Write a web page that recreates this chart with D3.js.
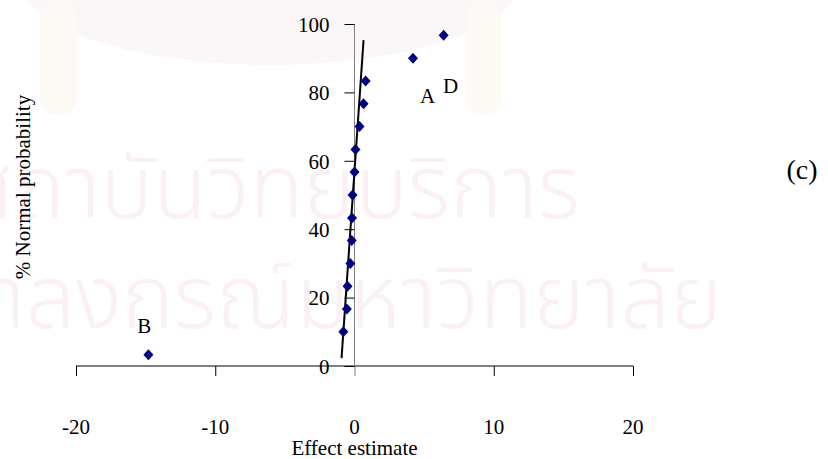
<!DOCTYPE html>
<html>
<head>
<meta charset="utf-8">
<script src="https://cdn.jsdelivr.net/npm/d3@7"></script>
<style>
  body { margin: 0; background: #fff; }
  text { font-family: "Liberation Serif", "Times New Roman", serif; }
</style>
</head>
<body>
<div id="chart"></div>
<script>
// normal probability plot of effect estimates

// effect estimates (sorted) and their % normal probability
let effects = [-14.8, -0.8, -0.55, -0.5, -0.3, -0.2, -0.18, -0.14, 0, 0.07, 0.36, 0.65, 0.8, 4.2, 6.4]
let probs = [3.3, 10, 16.7, 23.3, 30, 36.7, 43.3, 50, 56.7, 63.3, 70, 76.7, 83.3, 90, 96.7]

// fitted straight line through the small effects
let lineX = [-0.93, 0.65]
let lineY = [2.3, 95.3]

// point labels
let labelText = ["A", "D", "B"]
let labelX = [5.25, 6.9, -15.1]
let labelY = [76.9, 79.8, 9.6]

let xTicks = [-20, -10, 0, 10, 20]
let yTicks = [0, 20, 40, 60, 80, 100]

let width = 828, height = 459

let svg = d3.select("#chart").append("svg")
  .attr("width", width)
  .attr("height", height)

let xScale = d3.scaleLinear().domain([-20, 20]).range([76, 633])
let yScale = d3.scaleLinear().domain([0, 100]).range([366, 24])

////////////////////////////////////////////////////////////////
// faded watermark in the background

let wm = svg.append("g")
wm.append("ellipse")
  .attr("cx", 270).attr("cy", -20)
  .attr("rx", 250).attr("ry", 85)
  .attr("fill", "#fbf6f7")
wm.append("rect")
  .attr("x", 40).attr("y", 0).attr("width", 36).attr("height", 115)
  .attr("rx", 16).attr("fill", "#fdfaf5")
wm.append("rect")
  .attr("x", 466).attr("y", 0).attr("width", 36).attr("height", 115)
  .attr("rx", 16).attr("fill", "#fdfaf5")
wm.append("text")
  .attr("x", 580).attr("y", 218)
  .attr("text-anchor", "end")
  .style("font-family", "'Noto Sans Thai', 'Noto Sans', sans-serif")
  .style("font-size", "88px")
  .style("font-weight", "300")
  .attr("fill", "#fbf0f4")
  .text("สถาบันวิทยบริการ")
wm.append("text")
  .attr("x", 722).attr("y", 328)
  .attr("text-anchor", "end")
  .style("font-family", "'Noto Sans Thai', 'Noto Sans', sans-serif")
  .style("font-size", "88px")
  .style("font-weight", "300")
  .attr("fill", "#fbf0f4")
  .text("จุฬาลงกรณ์มหาวิทยาลัย")

////////////////////////////////////////////////////////////////
// axes

// x axis sits on y = 0, ticks point down
let xAxis = d3.axisBottom(xScale).tickValues(xTicks).tickSize(10).tickFormat("")
let gx = svg.append("g")
  .attr("transform", `translate(0,${yScale(0)})`)
  .call(xAxis)
gx.select(".domain").attr("stroke", "#000").attr("d", `M${xScale(-20)},0H${xScale(20)}`)
gx.selectAll(".tick line").attr("stroke", (d) => d === 0 ? "#808080" : "#000")

svg.append("g").selectAll("text")
  .data(xTicks)
  .enter()
  .append("text")
  .attr("x", d => xScale(d))
  .attr("y", 434)
  .attr("text-anchor", "middle")
  .style("font-size", "21px")
  .text(d => d)

// y axis sits on x = 0, ticks point left
let yAxis = d3.axisLeft(yScale).tickValues(yTicks).tickSize(10).tickPadding(15)
let gy = svg.append("g")
  .attr("transform", `translate(${xScale(0)},0)`)
  .call(yAxis)
gy.select(".domain").attr("stroke", "#808080").attr("d", `M0,${yScale(100)}V${yScale(0)}`)
gy.selectAll(".tick line").attr("stroke", "#000")
gy.selectAll(".tick text")
  .style("font-family", "'Liberation Serif', serif")
  .style("font-size", "21px")
  .attr("fill", "#000")
  .attr("dy", "0.35em")

// axis titles
svg.append("text")
  .attr("x", xScale(0)).attr("y", 455)
  .attr("text-anchor", "middle")
  .style("font-size", "21px")
  .text("Effect estimate")

svg.append("text")
  .attr("transform", "translate(30,187) rotate(-90)")
  .attr("text-anchor", "middle")
  .style("font-size", "21px")
  .text("% Normal probability")

////////////////////////////////////////////////////////////////
// fitted line and points

svg.append("line")
  .attr("x1", xScale(lineX[0])).attr("y1", yScale(lineY[0]))
  .attr("x2", xScale(lineX[1])).attr("y2", yScale(lineY[1]))
  .attr("stroke", "#000")
  .attr("stroke-width", 2)

svg.append("g").selectAll("path")
  .data(effects)
  .enter()
  .append("path")
  .attr("transform", (d, i) => `translate(${xScale(d)},${yScale(probs[i])})`)
  .attr("d", "M0,-5.5L5,0L0,5.5L-5,0Z")
  .attr("fill", "#000080")

svg.append("g").selectAll("text")
  .data(labelText)
  .enter()
  .append("text")
  .attr("x", (d, i) => xScale(labelX[i]))
  .attr("y", (d, i) => yScale(labelY[i]))
  .attr("text-anchor", "middle")
  .style("font-size", "21px")
  .text(d => d)

svg.append("text")
  .attr("x", 802).attr("y", 179)
  .attr("text-anchor", "middle")
  .style("font-size", "28px")
  .text("(c)")
</script>
</body>
</html>
